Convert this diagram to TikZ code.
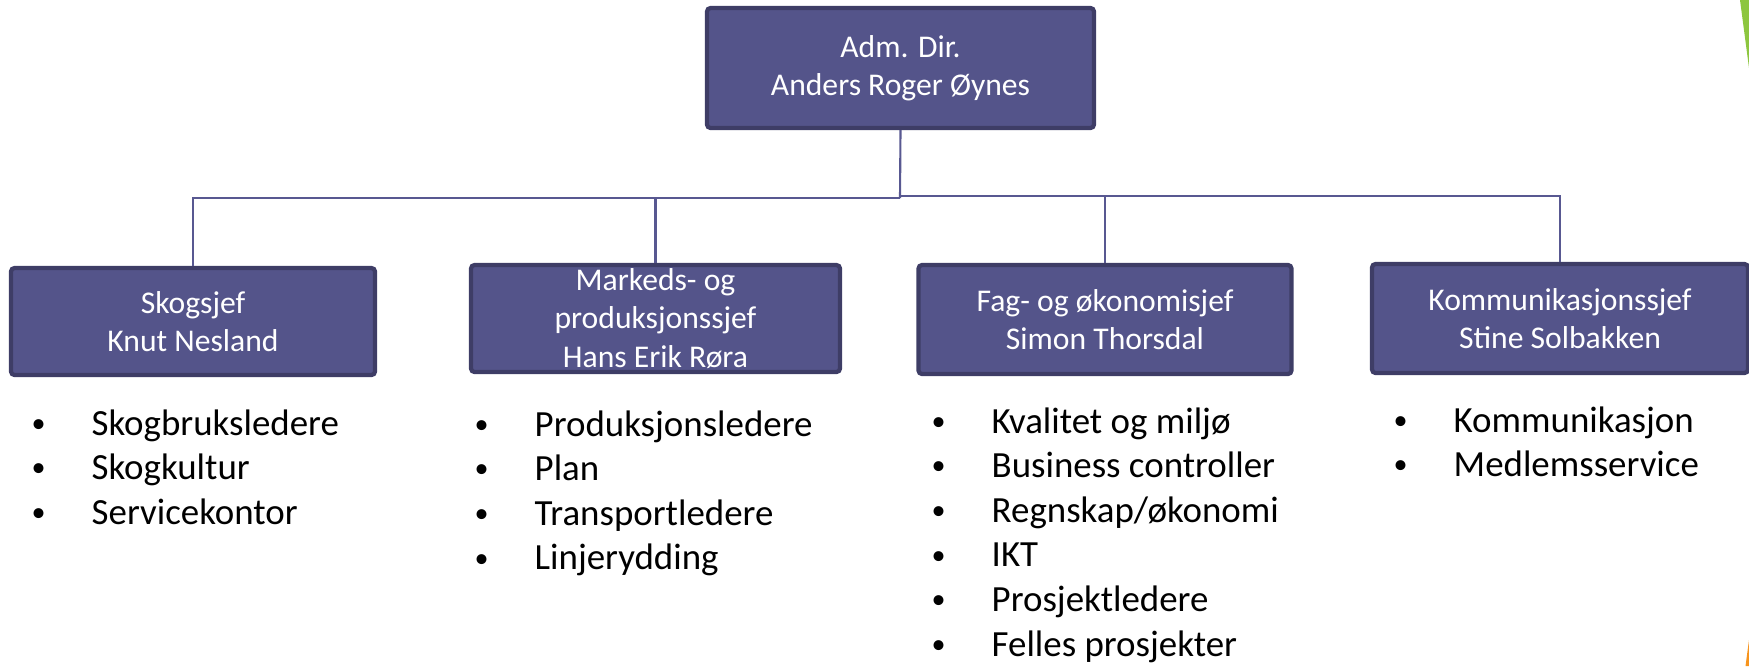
\documentclass[tikz,border=0pt]{standalone}
\usepackage{fontspec}
\setmainfont{Carlito}
\usepackage{xcolor}
\usepackage{tikz}
\definecolor{boxfill}{RGB}{84,84,138}
\definecolor{boxline}{RGB}{62,61,102}
\definecolor{linkline}{RGB}{88,88,145}
\definecolor{green}{RGB}{141,198,63}
\definecolor{orange}{RGB}{247,148,29}

\tikzset{
  leder/.style={draw=boxline, fill=boxfill, line width=1.2pt, rounded corners=1pt,
    text=white, align=center, inner sep=0pt, font=\fontsize{9}{10.9}\selectfont},
  link/.style={draw=linkline, line width=0.6pt},
  punkt/.style={anchor=base west, inner sep=0pt, font=\fontsize{10.5}{12.7}\selectfont}
}
\newcommand{\kule}{\llap{\makebox[0.60cm][l]{\raisebox{0.15ex}{\fontsize{8}{8}\selectfont\textbullet}}}}

\begin{document}
\begin{tikzpicture}
    \useasboundingbox (0,0) rectangle (17.49,-6.66);
    % Slide corner decoration
    \fill[green] (17.40,0) -- (17.49,0) -- (17.49,-0.68) -- cycle;
    \fill[orange] (17.49,-6.40) -- (17.455,-6.66) -- (17.49,-6.66) -- cycle;

    % Boxes
    \node[leder, minimum width=3.87cm, minimum height=1.20cm] (dir) at (9.005,-0.68)
        {Adm. Dir.\\Anders Roger Øynes};
    \node[leder, minimum width=3.64cm, minimum height=1.07cm] (skog) at (1.93,-3.215)
        {Skogsjef\\Knut Nesland};
    \node[leder, minimum width=3.69cm, minimum height=1.07cm] (marked) at (6.555,-3.185)
        {Markeds- og\\produksjonssjef\\Hans Erik Røra};
    \node[leder, minimum width=3.73cm, minimum height=1.09cm] (fag) at (11.05,-3.195)
        {Fag- og økonomisjef\\Simon Thorsdal};
    \node[leder, minimum width=3.76cm, minimum height=1.09cm] (komm) at (15.60,-3.185)
        {Kommunikasjonssjef\\Stine Solbakken};

    % Connectors
    \coordinate (bus) at (9.00,-1.98);
    \coordinate (busR) at (9.00,-1.96);
    \draw[link] (dir.south) -- (bus);
    \draw[link] (bus) -| (skog.north);
    \draw[link] (bus) -| (marked.north);
    \draw[link] (busR) -| (fag.north);
    \draw[link] (busR) -| (komm.north);

    % Bullet lists
    \foreach \txt [count=\i] in {Skogbruksledere,Skogkultur,Servicekontor}
        \node[punkt] (skog\i) at (0.91,-4.35-0.446*\i+0.446) {\kule\txt};
    \foreach \txt [count=\i] in {Produksjonsledere,Plan,Transportledere,Linjerydding}
        \node[punkt] (marked\i) at (5.34,-4.36-0.446*\i+0.446) {\kule\txt};
    \foreach \txt [count=\i] in {Kvalitet og miljø,Business controller,Regnskap/økonomi,IKT,Prosjektledere,Felles prosjekter}
        \node[punkt] (fag\i) at (9.91,-4.33-0.446*\i+0.446) {\kule\txt};
    \foreach \txt [count=\i] in {Kommunikasjon,Medlemsservice}
        \node[punkt] (komm\i) at (14.53,-4.32-0.446*\i+0.446) {\kule\txt};
\end{tikzpicture}
\end{document}
